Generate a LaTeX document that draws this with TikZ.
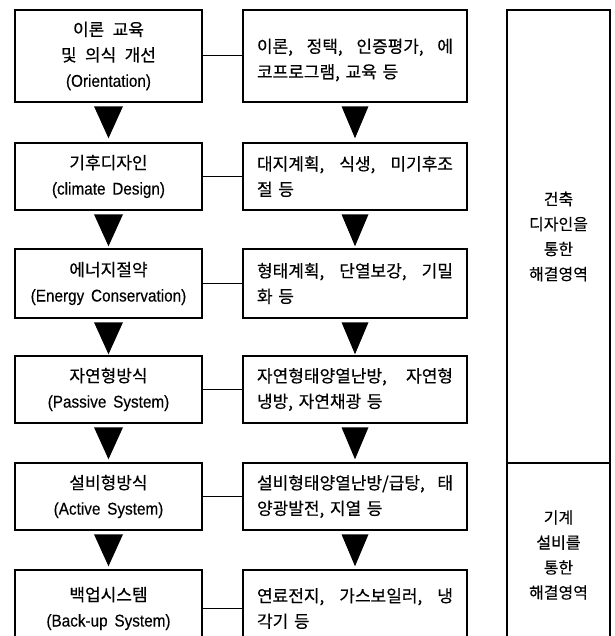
\documentclass[tikz,border=0pt]{standalone}
\usepackage{fontspec}
\setmainfont{Noto Sans CJK KR}[WordSpace=2.2,FakeBold=0.4]
\newfontfamily\en{Liberation Sans}[FakeStretch=0.9,WordSpace=1.6,FakeBold=0.3]
\usepackage{tikz}
\usetikzlibrary{calc}

\newcommand{\fullline}[1]{\makebox[196pt][s]{#1}}

\begin{document}
\begin{tikzpicture}[x=1pt,y=-1pt,
    stage/.style={draw,line width=2.6pt,minimum width=187pt,inner sep=0pt,align=center,
                  font=\fontsize{17}{25.5}\selectfont},
    detail/.style={draw,line width=2.6pt,minimum width=224pt,inner xsep=14pt,inner ysep=0pt,
                   text width=196pt,align=left,font=\fontsize{17}{25.5}\selectfont},
    area/.style={draw,line width=1.4pt,minimum width=103pt,inner sep=0pt,align=center,
                 font=\fontsize{16}{25}\selectfont},
    link/.style={line width=1pt},
    tri/.style={fill=black}]
          \useasboundingbox (0,0) rectangle (614,636);
          \clip (0,0) rectangle (614,636);
          % left column
          \node[stage,minimum height=92pt] (L1) at (108.5,56)  {이론 교육\\및 의식 개선\\{\en (Orientation)}};
          \node[stage,minimum height=67pt] (L2) at (108.5,176.5) {기후디자인\\{\en (climate Design)}};
          \node[stage,minimum height=69pt] (L3) at (108.5,283.5) {에너지절약\\{\en (Energy Conservation)}};
          \node[stage,minimum height=67pt] (L4) at (108.5,389.5) {자연형방식\\{\en (Passive System)}};
          \node[stage,minimum height=67pt] (L5) at (108.5,496.5) {설비형방식\\{\en (Active System)}};
          \node[stage,minimum height=77pt] (L6) at (108.5,608.5) {백업시스템\\{\en (Back-up System)}};
          % middle column (first lines spread full width)
          \node[detail,minimum height=92pt] (R1) at (355,56)  {\rule{0pt}{22pt}\fullline{이론,\hfill 정택,\hfill 인증평가,\hfill 에}\\코프로그램, 교육 등};
          \node[detail,minimum height=67pt] (R2) at (355,176.5) {\fullline{대지계획,\hfill 식생,\hfill 미기후조}\\절 등};
          \node[detail,minimum height=69pt] (R3) at (355,283.5) {\fullline{형태계획,\hfill 단열보강,\hfill 기밀}\\화 등};
          \node[detail,minimum height=67pt] (R4) at (355,389.5) {\fullline{자연형태양열난방,\hfill 자연형}\\냉방, 자연채광 등};
          \node[detail,minimum height=67pt] (R5) at (355,496.5) {\fullline{설비형태양열난방/급탕,\hfill 태}\\양광발전, 지열 등};
          \node[detail,minimum height=77pt] (R6) at (355,608.5) {\fullline{연료전지,\hfill 가스보일러,\hfill 냉}\\각기 등};
          % right column
          \node[area,minimum height=453pt] (G1) at (558.5,236.5) {건축\\디자인을\\통한\\해결영역};
          \node[area,minimum height=184pt] (G2) at (558.5,555) {기계\\설비를\\통한\\해결영역};
          % links
          \draw[link] (L1) -- (R1);
          \draw[link] (L2) -- (R2);
          \draw[link] (L3) -- (R3);
          \draw[link] (L4) -- (R4);
          \draw[link] (L5) -- (R5);
          \draw[link] (L6) -- (R6);
          % down triangles
          \fill[tri] ($(L1.south)+(-14.5,3)$) -- ++(29,0) -- ++(-14.5,32) -- cycle;
          \fill[tri] ($(L2.south)+(-14.5,3)$) -- ++(29,0) -- ++(-14.5,32) -- cycle;
          \fill[tri] ($(L3.south)+(-14.5,3)$) -- ++(29,0) -- ++(-14.5,32) -- cycle;
          \fill[tri] ($(L4.south)+(-14.5,3)$) -- ++(29,0) -- ++(-14.5,32) -- cycle;
          \fill[tri] ($(L5.south)+(-14.5,3)$) -- ++(29,0) -- ++(-14.5,32) -- cycle;
          \fill[tri] ($(R1.south)+(-13.5,3)$) -- ++(27,0) -- ++(-13.5,32) -- cycle;
          \fill[tri] ($(R2.south)+(-13.5,3)$) -- ++(27,0) -- ++(-13.5,32) -- cycle;
          \fill[tri] ($(R3.south)+(-13.5,3)$) -- ++(27,0) -- ++(-13.5,32) -- cycle;
          \fill[tri] ($(R4.south)+(-13.5,3)$) -- ++(27,0) -- ++(-13.5,32) -- cycle;
          \fill[tri] ($(R5.south)+(-13.5,3)$) -- ++(27,0) -- ++(-13.5,32) -- cycle;
\end{tikzpicture}
\end{document}
